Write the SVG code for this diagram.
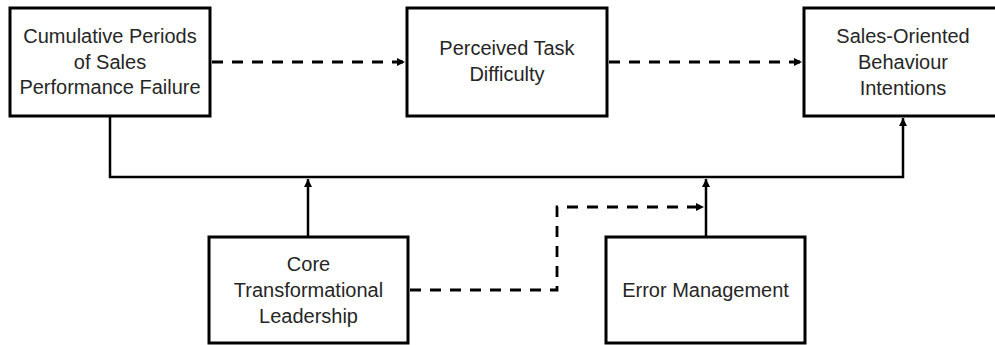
<svg xmlns="http://www.w3.org/2000/svg" width="995" height="345" viewBox="0 0 995 345">
  <style>
    .box { fill: #ffffff; stroke: #000000; stroke-width: 3; }
    .label { font-family: "Liberation Sans", Arial, sans-serif; font-size: 20px; fill: #262626; text-anchor: middle; }
    .solid { fill: none; stroke: #000000; stroke-width: 2.5; }
    .dashed { fill: none; stroke: #000000; stroke-width: 2.8; stroke-dasharray: 11 9; }
  </style>
  <defs>
    <marker id="arrow" viewBox="0 0 10 10" refX="10" refY="5" markerWidth="9" markerHeight="8" markerUnits="userSpaceOnUse" orient="auto">
      <path d="M0,0 L10,5 L0,10 z" fill="#000000"/>
    </marker>
  </defs>
  <rect width="995" height="345" fill="#ffffff"/>

  <g id="connectors">
    <!-- dashed path: failure -> task difficulty -> behaviour intentions -->
    <line class="dashed" x1="212" y1="62" x2="405" y2="62" marker-end="url(#arrow)"/>
    <line class="dashed" x1="609" y1="62" x2="802" y2="62" marker-end="url(#arrow)"/>
    <!-- direct solid path: failure -> behaviour intentions -->
    <polyline class="solid" points="110,117 110,177 903,177 903,118" marker-end="url(#arrow)"/>
    <!-- moderators onto the direct path -->
    <line class="solid" x1="308" y1="236" x2="308" y2="179" marker-end="url(#arrow)"/>
    <line class="solid" x1="706" y1="236" x2="706" y2="179" marker-end="url(#arrow)"/>
    <!-- leadership -> error management moderation -->
    <polyline class="dashed" points="410,290 557,290 557,207 704,207" marker-end="url(#arrow)"/>
  </g>

  <g id="failure">
    <rect class="box" x="10" y="8" width="200" height="108"/>
    <text class="label" x="110" y="43">Cumulative Periods</text>
    <text class="label" x="110" y="68.5">of Sales</text>
    <text class="label" x="110" y="94">Performance Failure</text>
  </g>

  <g id="task-difficulty">
    <rect class="box" x="407" y="8" width="200" height="108"/>
    <text class="label" x="507" y="55">Perceived Task</text>
    <text class="label" x="507" y="81">Difficulty</text>
  </g>

  <g id="behaviour-intentions">
    <rect class="box" x="804" y="8" width="198" height="108"/>
    <text class="label" x="903" y="43">Sales-Oriented</text>
    <text class="label" x="903" y="68.5">Behaviour</text>
    <text class="label" x="903" y="94.5">Intentions</text>
  </g>

  <g id="leadership">
    <rect class="box" x="209" y="237" width="199" height="106"/>
    <text class="label" x="308.5" y="270.5">Core</text>
    <text class="label" x="308.5" y="297">Transformational</text>
    <text class="label" x="308.5" y="323">Leadership</text>
  </g>

  <g id="error-management">
    <rect class="box" x="606" y="237" width="199" height="106"/>
    <text class="label" x="705.5" y="297">Error Management</text>
  </g>
</svg>
